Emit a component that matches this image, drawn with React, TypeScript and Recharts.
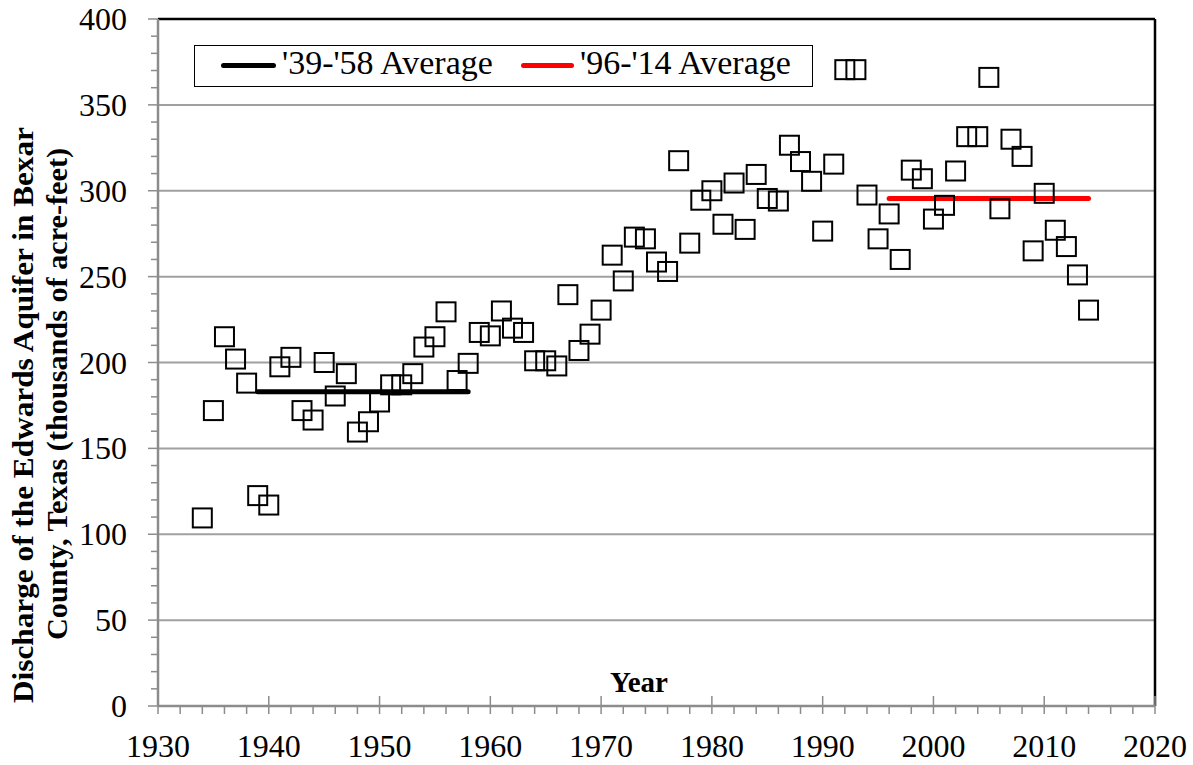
import React from 'react';
import { ComposedChart, XAxis, YAxis, Scatter, Line, ReferenceLine } from 'recharts';

const years = [
  1934, 1935, 1936, 1937, 1938, 1939, 1940, 1941, 1942, 1943, 1944, 1945, 1946, 1947, 1948, 1949,
  1950, 1951, 1952, 1953, 1954, 1955, 1956, 1957, 1958, 1959, 1960, 1961, 1962, 1963, 1964, 1965,
  1966, 1967, 1968, 1969, 1970, 1971, 1972, 1973, 1974, 1975, 1976, 1977, 1978, 1979, 1980, 1981,
  1982, 1983, 1984, 1985, 1986, 1987, 1988, 1989, 1990, 1991, 1992, 1993, 1994, 1995, 1996, 1997,
  1998, 1999, 2000, 2001, 2002, 2003, 2004, 2005, 2006, 2007, 2008, 2009, 2010, 2011, 2012, 2013, 2014,
];

const discharge = [
  109.5, 172, 215, 202, 188, 122.5, 117, 197.5, 203, 172, 166.5, 200, 180.5, 193.5, 159.5, 165.5,
  177, 187, 187, 193.5, 209, 215, 229.5, 189.5, 199.5, 217.5, 215.5, 230, 220, 217.5, 201, 201,
  198, 239.5, 207, 216.5, 230.5, 262.5, 247.5, 273, 272, 258.5, 253, 317.5, 269.5, 294.5, 300, 280.5,
  304.5, 277.5, 309.5, 295.5, 294, 326.5, 317, 305.5, 276.5, 315.5, 370.5, 370.5, 297.5, 272, 286.5, 260,
  312, 307, 283.5, 291.5, 311.5, 331.5, 331.5, 366, 289.5, 330, 320, 265, 298.5, 277, 267.5, 251, 230.5,
];

const avg1Years = [1939, 1958];
const avg1Value = 183;
const avg2Years = [1996, 2014];
const avg2Value = 295.5;

const avg1Label = "'39-'58 Average";
const avg2Label = "'96-'14 Average";

const xTicks = [
  1930, 1932, 1934, 1936, 1938, 1940, 1942, 1944, 1946, 1948, 1950, 1952, 1954, 1956, 1958, 1960,
  1962, 1964, 1966, 1968, 1970, 1972, 1974, 1976, 1978, 1980, 1982, 1984, 1986, 1988, 1990, 1992,
  1994, 1996, 1998, 2000, 2002, 2004, 2006, 2008, 2010, 2012, 2014, 2016, 2018, 2020,
];
const yTicks = [
  0, 10, 20, 30, 40, 50, 60, 70, 80, 90, 100, 110, 120, 130, 140, 150, 160, 170, 180, 190, 200,
  210, 220, 230, 240, 250, 260, 270, 280, 290, 300, 310, 320, 330, 340, 350, 360, 370, 380, 390, 400,
];
const gridValues = [50, 100, 150, 200, 250, 300, 350];

const xTitle = 'Year';
const yTitle1 = 'Discharge of the Edwards Aquifer in Bexar';
const yTitle2 = 'County, Texas (thousands of acre-feet)';

const points = years.map((y, i) => ({ year: y, v: discharge[i] }));
const avg1 = avg1Years.map((y) => ({ year: y, v: avg1Value }));
const avg2 = avg2Years.map((y) => ({ year: y, v: avg2Value }));

const FONT = '"Liberation Serif", "Times New Roman", serif';
const AXIS_GRAY = '#8c8c8c';

const XTick = (props: any) => {
  const { x, y, payload } = props;
  const v = payload.value;
  const major = v % 10 === 0;
  return (
    <g>
      <line x1={x} x2={x} y1={major ? y - 10 : y} y2={y + 8} stroke={AXIS_GRAY} strokeWidth={1.5} />
      {major && (
        <text x={x} y={y + 51} textAnchor="middle" fontFamily={FONT} fontSize={32} fill="#000">
          {v}
        </text>
      )}
    </g>
  );
};

const YTick = (props: any) => {
  const { x, y, payload } = props;
  const v = payload.value;
  const major = v % 50 === 0;
  return (
    <g>
      <line x1={major ? x - 10 : x - 7} x2={x} y1={y} y2={y} stroke={AXIS_GRAY} strokeWidth={1.5} />
      {major && (
        <text x={x - 31} y={y + 11} textAnchor="end" fontFamily={FONT} fontSize={32} fill="#000">
          {v}
        </text>
      )}
    </g>
  );
};

const SquareMarker = (props: any) => {
  const { cx, cy } = props;
  if (cx == null || cy == null) return null;
  return <rect x={cx - 9.5} y={cy - 9.5} width={19} height={19} fill="none" stroke="#000" strokeWidth={2} />;
};

const YTitle = () => (
  <g>
    <text
      transform="translate(33, 415) rotate(-90)"
      textAnchor="middle"
      fontFamily={FONT}
      fontWeight="bold"
      fontSize={29}
      textLength={576}
      lengthAdjust="spacingAndGlyphs"
      fill="#000"
    >
      {yTitle1}
    </text>
    <text
      transform="translate(67, 394) rotate(-90)"
      textAnchor="middle"
      fontFamily={FONT}
      fontWeight="bold"
      fontSize={29}
      textLength={492}
      lengthAdjust="spacingAndGlyphs"
      fill="#000"
    >
      {yTitle2}
    </text>
  </g>
);

export default function App() {
  return (
    <div style={{ position: 'absolute', left: 0, top: 0, width: 1193, height: 765, background: '#fff' }}>
      <ComposedChart width={1193} height={765} margin={{ top: 19, right: 38, bottom: 0, left: 0 }}>
        {gridValues.map((g) => (
          <ReferenceLine key={g} y={g} stroke="#a0a0a0" strokeWidth={2} />
        ))}
        <ReferenceLine y={400} stroke="#000" strokeWidth={2.5} />
        <ReferenceLine x={2020} stroke="#000" strokeWidth={2.5} />
        <XAxis
          dataKey="year"
          type="number"
          domain={[1930, 2020]}
          ticks={xTicks}
          interval={0}
          height={59}
          tickSize={0}
          tickMargin={0}
          tickLine={false}
          axisLine={{ stroke: AXIS_GRAY, strokeWidth: 2.5 }}
          tick={<XTick />}
          allowDataOverflow
        />
        <YAxis
          dataKey="v"
          type="number"
          domain={[0, 400]}
          ticks={yTicks}
          interval={0}
          width={158}
          tickSize={0}
          tickMargin={0}
          tickLine={false}
          axisLine={{ stroke: AXIS_GRAY, strokeWidth: 2.5 }}
          tick={<YTick />}
          allowDataOverflow
        />
        <Scatter data={points} dataKey="v" shape={<SquareMarker />} isAnimationActive={false} />
        <Line
          data={avg1}
          dataKey="v"
          stroke="#000"
          strokeWidth={5}
          strokeLinecap="round"
          dot={false}
          activeDot={false}
          isAnimationActive={false}
        />
        <Line
          data={avg2}
          dataKey="v"
          stroke="#ff0000"
          strokeWidth={5}
          strokeLinecap="round"
          dot={false}
          activeDot={false}
          isAnimationActive={false}
        />
      </ComposedChart>
      <svg width={1193} height={765} style={{ position: 'absolute', left: 0, top: 0, pointerEvents: 'none' }}>
        <YTitle />
        <text x={639} y={692} textAnchor="middle" fontFamily={FONT} fontWeight="bold" fontSize={29} fill="#000">
          {xTitle}
        </text>
      </svg>
      <div
        style={{
          position: 'absolute',
          left: 194,
          top: 45,
          width: 619,
          height: 42,
          border: '1.5px solid #000',
          boxSizing: 'border-box',
          background: '#fff',
          fontFamily: FONT,
          fontSize: 34,
        }}
      >
        <div style={{ position: 'absolute', left: 26, top: 17, width: 55, height: 5, borderRadius: 3, background: '#000' }} />
        <div style={{ position: 'absolute', left: 87, top: -4, lineHeight: '42px', whiteSpace: 'nowrap' }}>{avg1Label}</div>
        <div style={{ position: 'absolute', left: 326, top: 17, width: 53, height: 5, borderRadius: 3, background: '#ff0000' }} />
        <div style={{ position: 'absolute', left: 385, top: -4, lineHeight: '42px', whiteSpace: 'nowrap' }}>{avg2Label}</div>
      </div>
    </div>
  );
}
